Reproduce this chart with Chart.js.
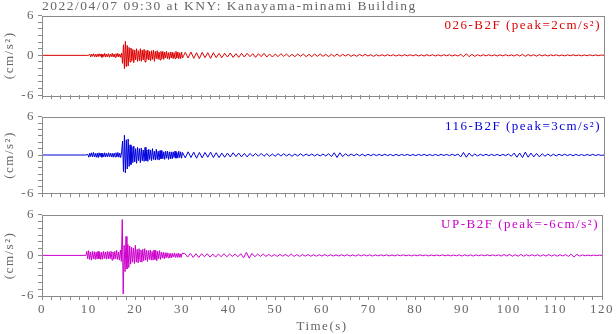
<!DOCTYPE html>
<html>
<head>
<meta charset="utf-8">
<script src="https://cdn.jsdelivr.net/npm/chart.js@4.4.1/dist/chart.umd.min.js"></script>
<style>
    html, body { margin: 0; padding: 0; background: #fff; }
    #wrap { position: relative; width: 616px; height: 334px; }
    canvas { position: absolute; left: 0; }
</style>
</head>
<body>
<div id="wrap">
    <canvas id="p1" width="616" height="106" style="top:0px"></canvas>
    <canvas id="p2" width="616" height="98" style="top:106px"></canvas>
    <canvas id="p3" width="616" height="130" style="top:204px"></canvas>
</div>
<script>
// ---------------- DATA ----------------
const chartTitle = "2022/04/07 09:30 at KNY: Kanayama-minami Building";
const stations = ["026-B2F", "116-B2F", "UP-B2F"];
const peaks = [2, 3, -6];
const xTickLabels = [0, 10, 20, 30, 40, 50, 60, 70, 80, 90, 100, 110, 120];
const yTickLabels = [-6, 0, 6];

// sample times (s): quiet start, 0.2 s through the strong motion, 0.6 s in the coda
const time = [0, 9.4];
for (let t = 9.6; t < 30.05; t += 0.2) time.push(Math.round(t * 10) / 10);
for (let t = 30.6; t < 120.05; t += 0.6) time.push(Math.round(t * 10) / 10);

// acceleration (cm/s2)
const acc026 = [
    0, 0,
    0, 0, 0.03, 0.2, -0.25, 0.2, -0.15, 0.25, -0.2, 0.15,
    -0.25, 0.2, -0.2, 0.25, -0.15, 0.2, -0.3, 0.2, -0.2, 0.3,
    -0.25, 0.2, -0.2, 0.25, -0.3, 0.2, -0.2, 0.3, -0.25, 0.2,
    -0.3, 0.25, -0.2, 0.3, -0.25, 0.2, -0.3, 0.35, -1.2, 1.6,
    -2.0, 2.1, -1.7, 1.5, -1.6, 1.2, -1.0, 1.1, -0.8, 0.9,
    -1.1, 0.8, -0.7, 1.0, -0.9, 0.7, -0.8, 1.0, -0.9, 0.8,
    -0.7, 0.9, -1.0, 0.7, -0.6, 0.8, -0.7, 0.6, -0.8, 0.7,
    -0.6, 0.8, -0.9, 0.6, -0.5, 0.7, -0.6, 0.5, -0.7, 0.6,
    -0.5, 0.6, -0.6, 0.5, -0.4, 0.6, -0.5, 0.4, -0.6, 0.5,
    -0.4, 0.5, -0.5, 0.4, -0.5, 0.6, -0.4, 0.5, -0.5, 0.4,
    -0.5, 0.5, -0.4,
    0.45, -0.4, 0.5, -0.45, 0.4, -0.5, 0.45, -0.35, 0.4, -0.45,
    0.4, -0.35, 0.3, -0.35, 0.3, -0.25, 0.35, -0.3, 0.25, -0.3,
    0.3, -0.25, 0.3, -0.2, 0.25, -0.3, 0.25, -0.2, 0.3, -0.25,
    0.2, -0.25, 0.2, -0.2, 0.25, -0.15, 0.2, -0.2, 0.15, -0.2,
    0.2, -0.15, 0.2, -0.2, 0.15, -0.2, 0.2, -0.15, 0.2, -0.15,
    0.15, -0.2, 0.15, -0.15, 0.2, -0.15, 0.15, -0.1, 0.15, -0.15,
    0.1, -0.15, 0.15, -0.1, 0.15, -0.1, 0.1, -0.15, 0.1, -0.1,
    0.1, -0.1, 0.1, -0.08, 0.1, -0.1, 0.08, -0.1, 0.1, -0.08,
    0.1, -0.08, 0.1, -0.1, 0.08, -0.1, 0.1, -0.08, 0.1, -0.1,
    0.08, -0.1, 0.1, -0.08, 0.1, -0.1, 0.08, -0.1, 0.15, -0.2,
    0.25, -0.2, 0.15, -0.15, 0.1, -0.1, 0.1, -0.08, 0.1, -0.08,
    0.08, -0.1, 0.08, -0.08, 0.1, -0.08, 0.08, -0.1, 0.12, -0.1,
    0.15, -0.15, 0.12, -0.1, 0.1, -0.12, 0.1, -0.08, 0.08, -0.1,
    0.08, -0.06, 0.08, -0.08, 0.06, -0.08, 0.08, -0.06, 0.08, -0.06,
    0.06, -0.08, 0.06, -0.06, 0.08, -0.06, 0.06, -0.05, 0.05, 0
];

const acc116 = [
    0, 0,
    0, 0.1, -0.35, 0.3, -0.25, 0.35, -0.3, 0.4, -0.3, 0.25,
    -0.35, 0.3, -0.4, 0.35, -0.25, 0.3, -0.35, 0.25, -0.3, 0.35,
    -0.3, 0.25, -0.3, 0.35, -0.25, 0.3, -0.3, 0.25, -0.35, 0.3,
    -0.3, 0.35, -0.3, 0.4, -0.35, 0.3, -0.4, 0.5, 2.2, -2.6,
    3.1, -2.8, 2.4, -2.2, 2.5, -1.8, 1.6, -1.5, 1.3, -1.2,
    1.4, -1.1, 1.0, -1.3, 1.2, -0.9, 1.0, -1.2, 1.1, -0.9,
    0.8, -1.0, 1.2, -0.9, 0.8, -1.0, 0.9, -0.7, 0.8, -0.9,
    1.0, -0.7, 0.6, -0.8, 0.9, -0.7, 0.6, -0.8, 0.7, -0.6,
    0.7, -0.6, 0.5, -0.7, 0.6, -0.5, 0.6, -0.7, 0.5, -0.6,
    0.5, -0.6, 0.5, -0.4, 0.6, -0.5, 0.4, -0.5, 0.6, -0.4,
    0.5, -0.5, 0.4,
    -0.45, 0.5, -0.4, 0.45, -0.5, 0.4, -0.45, 0.4, -0.35, 0.45,
    -0.4, 0.35, -0.4, 0.3, -0.35, 0.3, -0.3, 0.35, -0.25, 0.3,
    -0.3, 0.25, -0.3, 0.25, -0.2, 0.25, -0.2, 0.25, -0.2, 0.2,
    -0.2, 0.15, -0.2, 0.2, -0.15, 0.2, -0.15, 0.15, -0.2, 0.15,
    -0.15, 0.2, -0.15, 0.15, -0.12, 0.15, -0.15, 0.12, -0.15, 0.15,
    -0.15, 0.2, -0.25, 0.35, -0.4, 0.35, -0.25, 0.2, -0.15, 0.15,
    -0.12, 0.15, -0.12, 0.12, -0.15, 0.12, -0.1, 0.12, -0.1, 0.1,
    -0.1, 0.12, -0.1, 0.1, -0.12, 0.1, -0.1, 0.1, -0.08, 0.1,
    -0.1, 0.08, -0.1, 0.1, -0.08, 0.1, -0.1, 0.08, -0.1, 0.1,
    -0.1, 0.1, -0.08, 0.1, -0.1, 0.12, -0.1, 0.15, -0.3, 0.4,
    -0.35, 0.3, -0.2, 0.15, -0.15, 0.12, -0.1, 0.12, -0.1, 0.1,
    -0.1, 0.1, -0.12, 0.1, -0.1, 0.15, -0.2, 0.3, -0.35, 0.3,
    -0.4, 0.45, -0.35, 0.3, -0.3, 0.25, -0.3, 0.2, -0.2, 0.15,
    -0.15, 0.12, -0.15, 0.12, -0.1, 0.12, -0.1, 0.1, -0.12, 0.1,
    -0.1, 0.08, -0.1, 0.08, -0.08, 0.1, -0.08, 0.06, -0.06, 0
];

const accUP = [
    0, 0,
    0.6, -0.5, 0.7, -0.6, 0.5, -0.7, 0.6, -0.5, 0.55, -0.6,
    0.5, -0.55, 0.6, -0.5, 0.45, -0.6, 0.5, -0.55, 0.6, -0.45,
    0.5, -0.55, 0.6, -0.5, 0.55, -0.5, 0.6, -0.7, 0.5, -0.55,
    0.6, -0.5, 0.75, -0.6, 0.5, -0.7, 0.8, -0.9, 5.3, -5.7,
    1.5, -2.4, 2.8, -2.0, 1.6, -1.8, 1.4, -1.3, 1.2, -1.0,
    1.1, -1.2, 1.5, -1.0, 0.9, -1.1, 1.0, -0.9, 0.8, -1.0,
    0.9, -0.8, 1.0, -0.7, 0.8, -0.9, 0.7, -0.6, 0.8, -0.7,
    0.6, -0.7, 0.8, -0.6, 0.7, -0.8, 0.6, -0.5, 0.7, -0.6,
    0.5, -0.4, 0.45, -0.5, 0.4, -0.35, 0.4, -0.35, 0.3, -0.35,
    0.3, -0.35, 0.3, -0.25, 0.35, -0.3, 0.25, -0.3, 0.35, -0.3,
    0.25, -0.3, 0.3,
    0.3, -0.25, 0.3, -0.3, 0.25, -0.3, 0.25, -0.2, 0.25, -0.25,
    0.2, -0.25, 0.2, -0.2, 0.25, -0.2, 0.2, -0.15, 0.2, -0.2,
    0.25, -0.35, 0.45, -0.4, 0.3, -0.2, 0.2, -0.15, 0.2, -0.15,
    0.15, -0.15, 0.12, -0.15, 0.15, -0.12, 0.15, -0.15, 0.2, -0.15,
    0.12, -0.15, 0.12, -0.1, 0.12, -0.12, 0.1, -0.12, 0.1, -0.1,
    0.12, -0.1, 0.1, -0.1, 0.08, -0.1, 0.1, -0.08, 0.1, -0.1,
    0.08, -0.1, 0.1, -0.08, 0.1, -0.08, 0.08, -0.1, 0.08, -0.08,
    0.08, -0.06, 0.08, -0.08, 0.06, -0.08, 0.08, -0.06, 0.08, -0.06,
    0.06, -0.08, 0.06, -0.06, 0.08, -0.06, 0.06, -0.08, 0.06, -0.06,
    0.06, -0.06, 0.08, -0.06, 0.06, -0.08, 0.06, -0.06, 0.08, -0.1,
    0.1, -0.08, 0.08, -0.1, 0.08, -0.06, 0.08, -0.06, 0.08, -0.06,
    0.08, -0.06, 0.08, -0.1, 0.12, -0.1, 0.15, -0.12, 0.1, -0.12,
    0.15, -0.12, 0.1, -0.08, 0.1, -0.08, 0.1, -0.12, 0.1, -0.1,
    0.12, -0.1, 0.1, -0.12, 0.1, -0.08, 0.12, -0.15, 0.2, -0.25,
    0.15, -0.1, 0.08, -0.06, 0.05, -0.06, 0.05, -0.04, 0.04, 0
];

const colors = ["#dd0000", "#0000dd", "#cc00cc"];

// ---------------- STYLE ----------------
const grey = "#666";
const frameGrey = "#8a8a8a";
const serif = "'Liberation Serif', 'DejaVu Serif', serif";

// wide letter spacing like the original plot
const spacingPlugin = {
    id: "spacing",
    beforeUpdate(chart) { chart.ctx.letterSpacing = "1.5px"; },
    beforeDraw(chart) { chart.ctx.letterSpacing = "1.5px"; }
};

// full box around each panel
const framePlugin = {
    id: "frame",
    afterDraw(chart) {
        const a = chart.chartArea;
        const ctx = chart.ctx;
        ctx.save();
        ctx.strokeStyle = frameGrey;
        ctx.lineWidth = 1;
        ctx.strokeRect(Math.round(a.left) + 0.5, Math.round(a.top) + 0.5,
            Math.round(a.right - a.left), Math.round(a.bottom - a.top));
        ctx.restore();
    }
};

// station + peak text in the top right corner of each panel
const peakLabelPlugin = {
    id: "peakLabel",
    afterDatasetsDraw(chart) {
        const a = chart.chartArea;
        const ds = chart.data.datasets[0];
        const ctx = chart.ctx;
        ctx.save();
        ctx.letterSpacing = "1.5px";
        ctx.font = "13px " + serif;
        ctx.fillStyle = ds.borderColor;
        ctx.textAlign = "right";
        ctx.textBaseline = "middle";
        ctx.fillText(ds.label, a.right - 3, a.top + 10);
        ctx.restore();
    }
};

// ---------------- PANELS ----------------
function makePanel(id, values, idx, topPad, bottom) {

    const label = stations[idx] + " (peak=" + peaks[idx] + "cm/s²)";
    const points = time.map((t, i) => ({ x: t, y: values[i] }));

    return new Chart(document.getElementById(id), {
        type: "line",
        data: {
            datasets: [{
                label: label,
                data: points,
                borderColor: colors[idx],
                borderWidth: 1,
                pointRadius: 0,
                tension: 0,
                fill: false
            }]
        },
        options: {
            responsive: false,
            animation: false,
            devicePixelRatio: 1,
            layout: { padding: { top: topPad, right: 12, left: 0, bottom: 0 } },
            plugins: {
                title: {
                    display: idx === 0,
                    text: chartTitle,
                    align: "start",
                    fullSize: false,
                    color: grey,
                    font: { family: serif, size: 13.5, weight: "normal", lineHeight: 1 },
                    padding: { top: 0, bottom: 2 }
                },
                legend: { display: false },
                tooltip: { enabled: false }
            },
            scales: {
                x: {
                    type: "linear",
                    min: 0,
                    max: 120,
                    afterFit: s => { s.height = bottom ? 38 : 7; },
                    border: { display: false },
                    grid: { drawOnChartArea: false, drawTicks: true, tickLength: 4, color: frameGrey },
                    ticks: {
                        stepSize: 2,
                        autoSkip: false,
                        maxRotation: 0,
                        padding: 2,
                        color: grey,
                        font: { family: serif, size: 13 },
                        callback: v => (bottom && xTickLabels.includes(v)) ? v : ""
                    },
                    title: {
                        display: bottom,
                        text: "Time(s)",
                        color: grey,
                        font: { family: serif, size: 13 },
                        padding: { top: 0, bottom: 0 }
                    }
                },
                y: {
                    min: -6,
                    max: 6,
                    afterFit: s => { s.width = 42; },
                    border: { display: false },
                    grid: { drawOnChartArea: false, drawTicks: true, tickLength: 4, color: frameGrey },
                    ticks: {
                        stepSize: 1,
                        autoSkip: false,
                        padding: 3,
                        color: grey,
                        font: { family: serif, size: 13 },
                        callback: v => yTickLabels.includes(v) ? v : ""
                    },
                    title: {
                        display: true,
                        text: "(cm/s²)",
                        color: grey,
                        font: { family: serif, size: 13 },
                        padding: { top: 2, bottom: 0 }
                    }
                }
            }
        },
        plugins: [spacingPlugin, framePlugin, peakLabelPlugin]
    });
}

makePanel("p1", acc026, 0, 0, false);
makePanel("p2", acc116, 1, 7, false);
makePanel("p3", accUP, 2, 8, true);
</script>
</body>
</html>
